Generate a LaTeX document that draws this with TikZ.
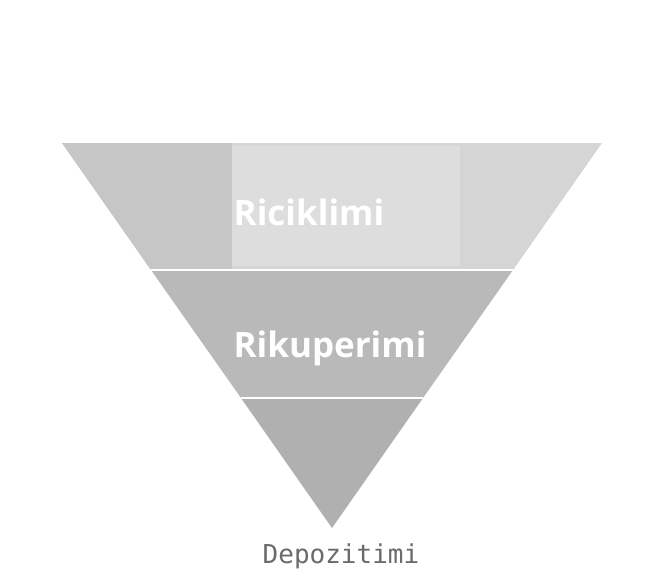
\documentclass[tikz,border=0pt]{standalone}
\usepackage{fontspec}
\setmainfont{Open Sans}
\newfontfamily\labelfont{DejaVu Sans Mono}
\definecolor{tiertop}{HTML}{D5D5D5}
\definecolor{tiertopin}{HTML}{DDDDDD}
\definecolor{tiertopleft}{HTML}{C6C6C6}
\definecolor{tiermid}{HTML}{B9B9B9}
\definecolor{tierbot}{HTML}{B0B0B0}
\definecolor{labelgray}{HTML}{6A6A6A}
\begin{document}
\begin{tikzpicture}[x=1pt,y=-1pt,
  tiertext/.style={text=white,font=\bfseries\fontsize{35}{38}\selectfont},
  basetext/.style={text=labelgray,font=\labelfont\fontsize{26}{28}\selectfont}]
\useasboundingbox (0,0) rectangle (663,581);
\fill[white] (0,0) rectangle (663,581);
% tiers of inverted triangle: top (62,143)-(602,143), apex (332,528)
\coordinate (ap) at (332,528);
\fill[tiertop] (62,143) -- (602,143) -- (513,270) -- (151,270) -- cycle;
\begin{scope}
  \clip (62,143) -- (602,143) -- (513,270) -- (151,270) -- cycle;
  \fill[tiertopin] (232,146) rectangle (460,266);
  \fill[tiertopleft] (62,143) rectangle (232,270);
\end{scope}
\fill[tiermid] (151,270) -- (513,270) -- (423,398) -- (241,398) -- cycle;
\fill[tierbot] (241,398) -- (423,398) -- (ap) -- cycle;
\draw[white,line width=1.2pt] (151,270) -- (513,270);
\draw[white,line width=1.2pt] (241,398) -- (423,398);
\node[tiertext] (ric) at (309,212) {Riciklimi};
\node[tiertext] (rik) at (330,348) {Rikuperimi};
\node[basetext] (dep) at (341,556) {Depozitimi};
\end{tikzpicture}
\end{document}
